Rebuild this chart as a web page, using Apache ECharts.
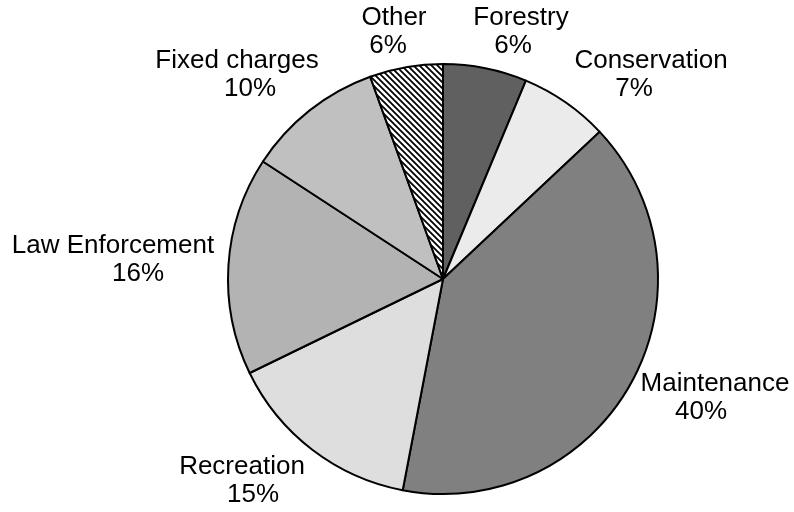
<!DOCTYPE html>
<html>
<head>
<meta charset="utf-8">
<script src="https://cdn.jsdelivr.net/npm/echarts@6/dist/echarts.min.js"></script>
<style>
 html, body { margin: 0; padding: 0; background: #fff; }
 #chart { width: 794px; height: 512px; }
</style>
</head>
<body>
<div id="chart"></div>
<script>
var categories = ['Forestry', 'Conservation', 'Maintenance', 'Recreation', 'Law Enforcement', 'Fixed charges', 'Other'];
var values = [6.3, 6.7, 40, 14.8, 16.4, 10.3, 5.5]; // share of budget
var percentLabels = [6, 7, 40, 15, 16, 10, 6];

// fill colours, the last slice is hatched
var colors = ['#606060', '#ebebeb', '#808080', '#dedede', '#b3b3b3', '#c0c0c0', null];
// label block centre, offset from the pie centre, and shift of the % line
var labelOffsets = [[78, -247], [208, -204], [272, 119], [-201, 202], [-330, -19], [-206, -204], [-49, -247]];
var pctShift = [-8, -17, -14, 11, 25, 13, -6];

var cx = 443, cy = 279, radius = 215;

function hatch() {
 var c = document.createElement('canvas');
 c.width = 6; c.height = 6;
 var g = c.getContext('2d');
 g.fillStyle = '#fff';
 g.fillRect(0, 0, 6, 6);
 g.strokeStyle = '#000';
 g.lineWidth = 1.8;
 g.beginPath();
 g.moveTo(-1, -1); g.lineTo(7, 7);
 g.moveTo(-4, 2); g.lineTo(4, 10);
 g.moveTo(2, -4); g.lineTo(10, 4);
 g.stroke();
 return c;
}

var data = [];
for (var i = 0; i < categories.length; i++) {
 var s = pctShift[i];
 data.push({
  name: categories[i],
  value: values[i],
  itemStyle: { color: colors[i] ? colors[i] : { image: hatch(), repeat: 'repeat' } },
  label: {
   formatter: '{n|' + categories[i] + '}\n{p|' + percentLabels[i] + '%}',
   rich: {
    n: { fontSize: 26, lineHeight: 28, color: '#000', fontFamily: 'Liberation Sans, Arial' },
    p: { fontSize: 26, lineHeight: 28, color: '#000', fontFamily: 'Liberation Sans, Arial',
         padding: [0, s < 0 ? -2 * s : 0, 0, s > 0 ? 2 * s : 0] }
   }
  }
 });
}

var myChart = echarts.init(document.getElementById('chart'));
var option = {
 animation: false,
 series: [{
  type: 'pie',
  center: [cx, cy],
  radius: [0, radius],
  startAngle: 90,
  clockwise: true,
  avoidLabelOverlap: false,
  itemStyle: { borderColor: '#000', borderWidth: 2 },
  label: { show: true, position: 'outside', align: 'center' },
  labelLine: { show: false },
  labelLayout: function (p) {
   var o = labelOffsets[p.dataIndex];
   return { x: cx + o[0], y: cy + o[1], align: 'center', verticalAlign: 'middle' };
  },
  emphasis: { disabled: true },
  data: data
 }]
};
myChart.setOption(option);
</script>
</body>
</html>
